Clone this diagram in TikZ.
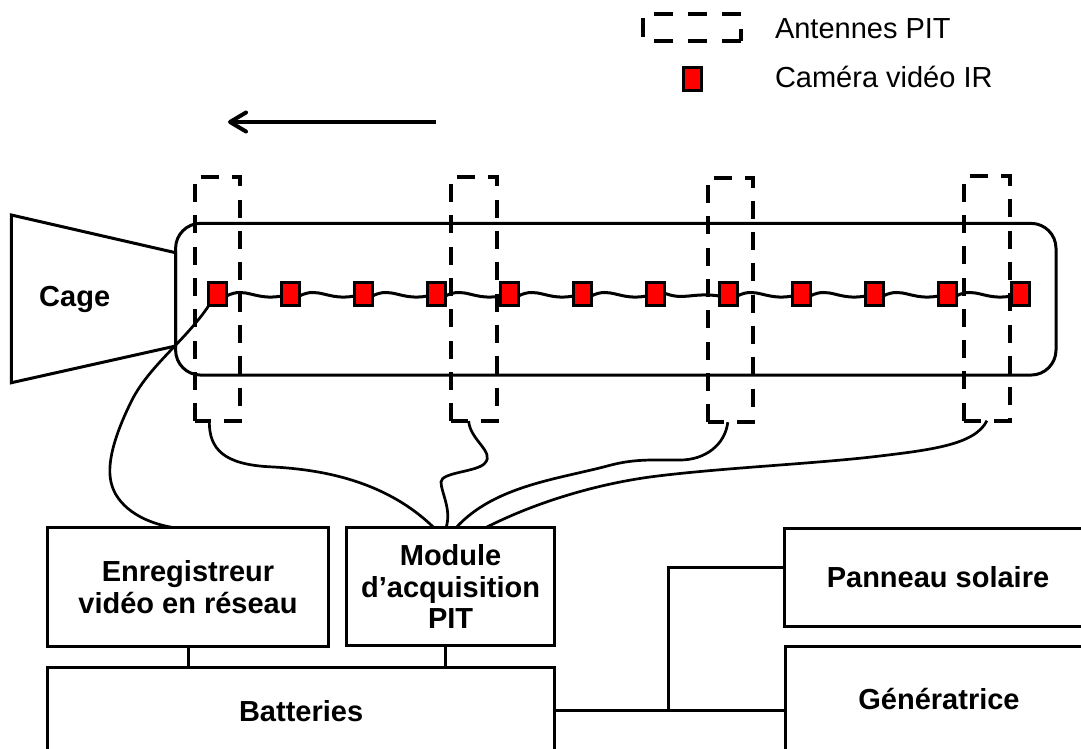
\documentclass[tikz,border=0pt]{standalone}
\usepackage{fontspec}
\setmainfont{Liberation Sans}
\usepackage{tikz}
\usetikzlibrary{positioning}
\usetikzlibrary{arrows.meta}

\begin{document}
\begin{tikzpicture}
          [x=1pt, y=-1pt, line width=3pt, node distance=55.47pt,
           every node/.style={outer sep=0pt, inner sep=0pt},
           lbl/.style={font=\fontsize{29}{31.5}\selectfont\bfseries, align=center},
           legend/.style={font=\fontsize{29}{31.5}\selectfont, anchor=west},
           block/.style={lbl, draw, minimum width=#1},
           antbox/.style={minimum width=45.6pt, minimum height=244.4pt},
           antline/.style={dash pattern=on 18pt off 13.3pt, line width=4pt},
           camera/.style={draw, fill=red, minimum width=17.5pt, minimum height=23pt},
           cable/.style={line width=2.7pt},
           wave/.style={to path={++(0,2) .. controls +(20,-10) and +(-28,5) .. ([yshift=-2pt]\tikztotarget)}},
           wavedip/.style={to path={++(0,-1) .. controls +(20,8) and +(-28,-4) .. ([yshift=-2pt]\tikztotarget)}}]
          \useasboundingbox (0,0) rectangle (1081,748);

          \node (keyant) [minimum width=98pt, minimum height=27pt] at (692,27.5) {};
          \draw[line width=4pt, dash pattern=on 19pt off 15pt] (keyant.south east) -- (keyant.south west) -- (keyant.north west) -- (keyant.north east) -- cycle;
          \node (keycam) [camera, minimum width=18pt] at (692,78.5) {};
          \node (keyanttxt) [legend] at (775,29) {Antennes PIT};
          \node (keycamtxt) [legend] at (775,77) {Caméra vidéo IR};

          \coordinate (dirstart) at (436,122);
          \coordinate (dirend) at (228,122);
          \draw[line width=4pt, -{Straight Barb[length=16pt, width=19pt, round]}] (dirstart) -- (dirend);

          \node (cage) [lbl] at (74.7,299.3) {Cage};
          \draw (11.4,215) -- (175.6,252.7) -- (175.6,346) -- (11.4,382.7) -- cycle;
          \node (fish) [draw, rounded corners=25pt, minimum width=880.4pt, minimum height=151.7pt] at (615.8,299.2) {};

          \node (ant1) [antbox] at (217.3,298.9) {};
          \node (ant2) [antbox] at (473.7,298.9) {};
          \node (ant3) [antbox] at (730.3,300) {};
          \node (ant4) [antbox] at (986.9,298.5) {};
          \draw[antline] (ant1.south west) -- (ant1.north west) -- (ant1.north east) -- (ant1.south east) -- cycle;
          \draw[antline] (ant2.south west) -- (ant2.north west) -- (ant2.north east) -- (ant2.south east) -- cycle;
          \draw[antline] (ant3.south west) -- (ant3.north west) -- (ant3.north east) -- (ant3.south east) -- cycle;
          \draw[antline] (ant4.south west) -- (ant4.north west) -- (ant4.north east) -- (ant4.south east) -- cycle;

          \node (cam1) [camera] at (217.6,294) {};
          \node (cam2) [camera, right = of cam1] {};
          \node (cam3) [camera, right = of cam2] {};
          \node (cam4) [camera, right = of cam3] {};
          \node (cam5) [camera, right = of cam4] {};
          \node (cam6) [camera, right = of cam5] {};
          \node (cam7) [camera, right = of cam6] {};
          \node (cam8) [camera, right = of cam7] {};
          \node (cam9) [camera, right = of cam8] {};
          \node (cam10) [camera, right = of cam9] {};
          \node (cam11) [camera, right = of cam10] {};
          \node (cam12) [camera, right = of cam11] {};

          \draw (cam1.east) to[wave] (cam2.west);
          \draw (cam2.east) to[wave] (cam3.west);
          \draw (cam3.east) to[wave] (cam4.west);
          \draw (cam4.east) to[wave] (cam5.west);
          \draw (cam5.east) to[wave] (cam6.west);
          \draw (cam6.east) to[wave] (cam7.west);
          \draw (cam7.east) to[wavedip] (cam8.west);
          \draw (cam8.east) to[wave] (cam9.west);
          \draw (cam9.east) to[wave] (cam10.west);
          \draw (cam10.east) to[wave] (cam11.west);
          \draw (cam11.east) to[wave] (cam12.west);

          \node (rec) [block=280.5pt, minimum height=119pt] at (188,587) {Enregistreur\\vidéo en réseau};
          \node (mod) [block=207.8pt, minimum height=117.5pt] at (450.6,586.5) {Module\\d’acquisition\\PIT};
          \node (bat) [block=506.7pt, minimum height=86pt] at (301.1,710.7) {Batteries};
          \node (sol) [block=308pt, minimum height=98.7pt] at (938,577.4) {Panneau solaire};
          \node (gen) [block=306.6pt, minimum height=106pt] at (939,699) {Génératrice};

          \draw[cable] (cam1.south west) .. controls (186,340) and (150,365) .. (132,400) .. controls (118,428) and (106,460) .. (111,482) .. controls (116,505) and (140,522) .. ([xshift=-15pt]rec.north);
          \draw[cable] ([xshift=-8pt]ant1.south) .. controls (209,450) and (225,464) .. (268,466.7) .. controls (320,469) and (385,480) .. ([xshift=-16.6pt]mod.north);
          \draw[cable] ([xshift=-5pt]ant2.south) .. controls (470,440) and (495,452) .. (485,463) .. controls (478,472) and (441,472) .. (441,482) .. controls (441,492) and (452,510) .. ([xshift=-4.6pt]mod.north);
          \draw[cable] ([xshift=-2.5pt]ant3.south) .. controls (725,445) and (705,460) .. (680,460) .. controls (650,460) and (635,459) .. (611,465) .. controls (560,479) and (495,485) .. ([xshift=5.4pt]mod.north);
          \draw[cable] (ant4.south) .. controls (975,445) and (930,450) .. (874,456.7) .. controls (810,464) and (720,468) .. (652,476.7) .. controls (590,485) and (530,505) .. ([xshift=34.9pt]mod.north);

          \coordinate (junction) at (668.7,710);
          \draw (rec) -- (rec |- bat.north);
          \draw (mod.south -| 445,0) -- (445,667.7);
          \draw (bat.east |- junction) -- (gen.west |- junction);
          \draw (junction) -- (668.7,567.7) -- (sol.west |- 0,567.7);
        \end{tikzpicture}
\end{document}
